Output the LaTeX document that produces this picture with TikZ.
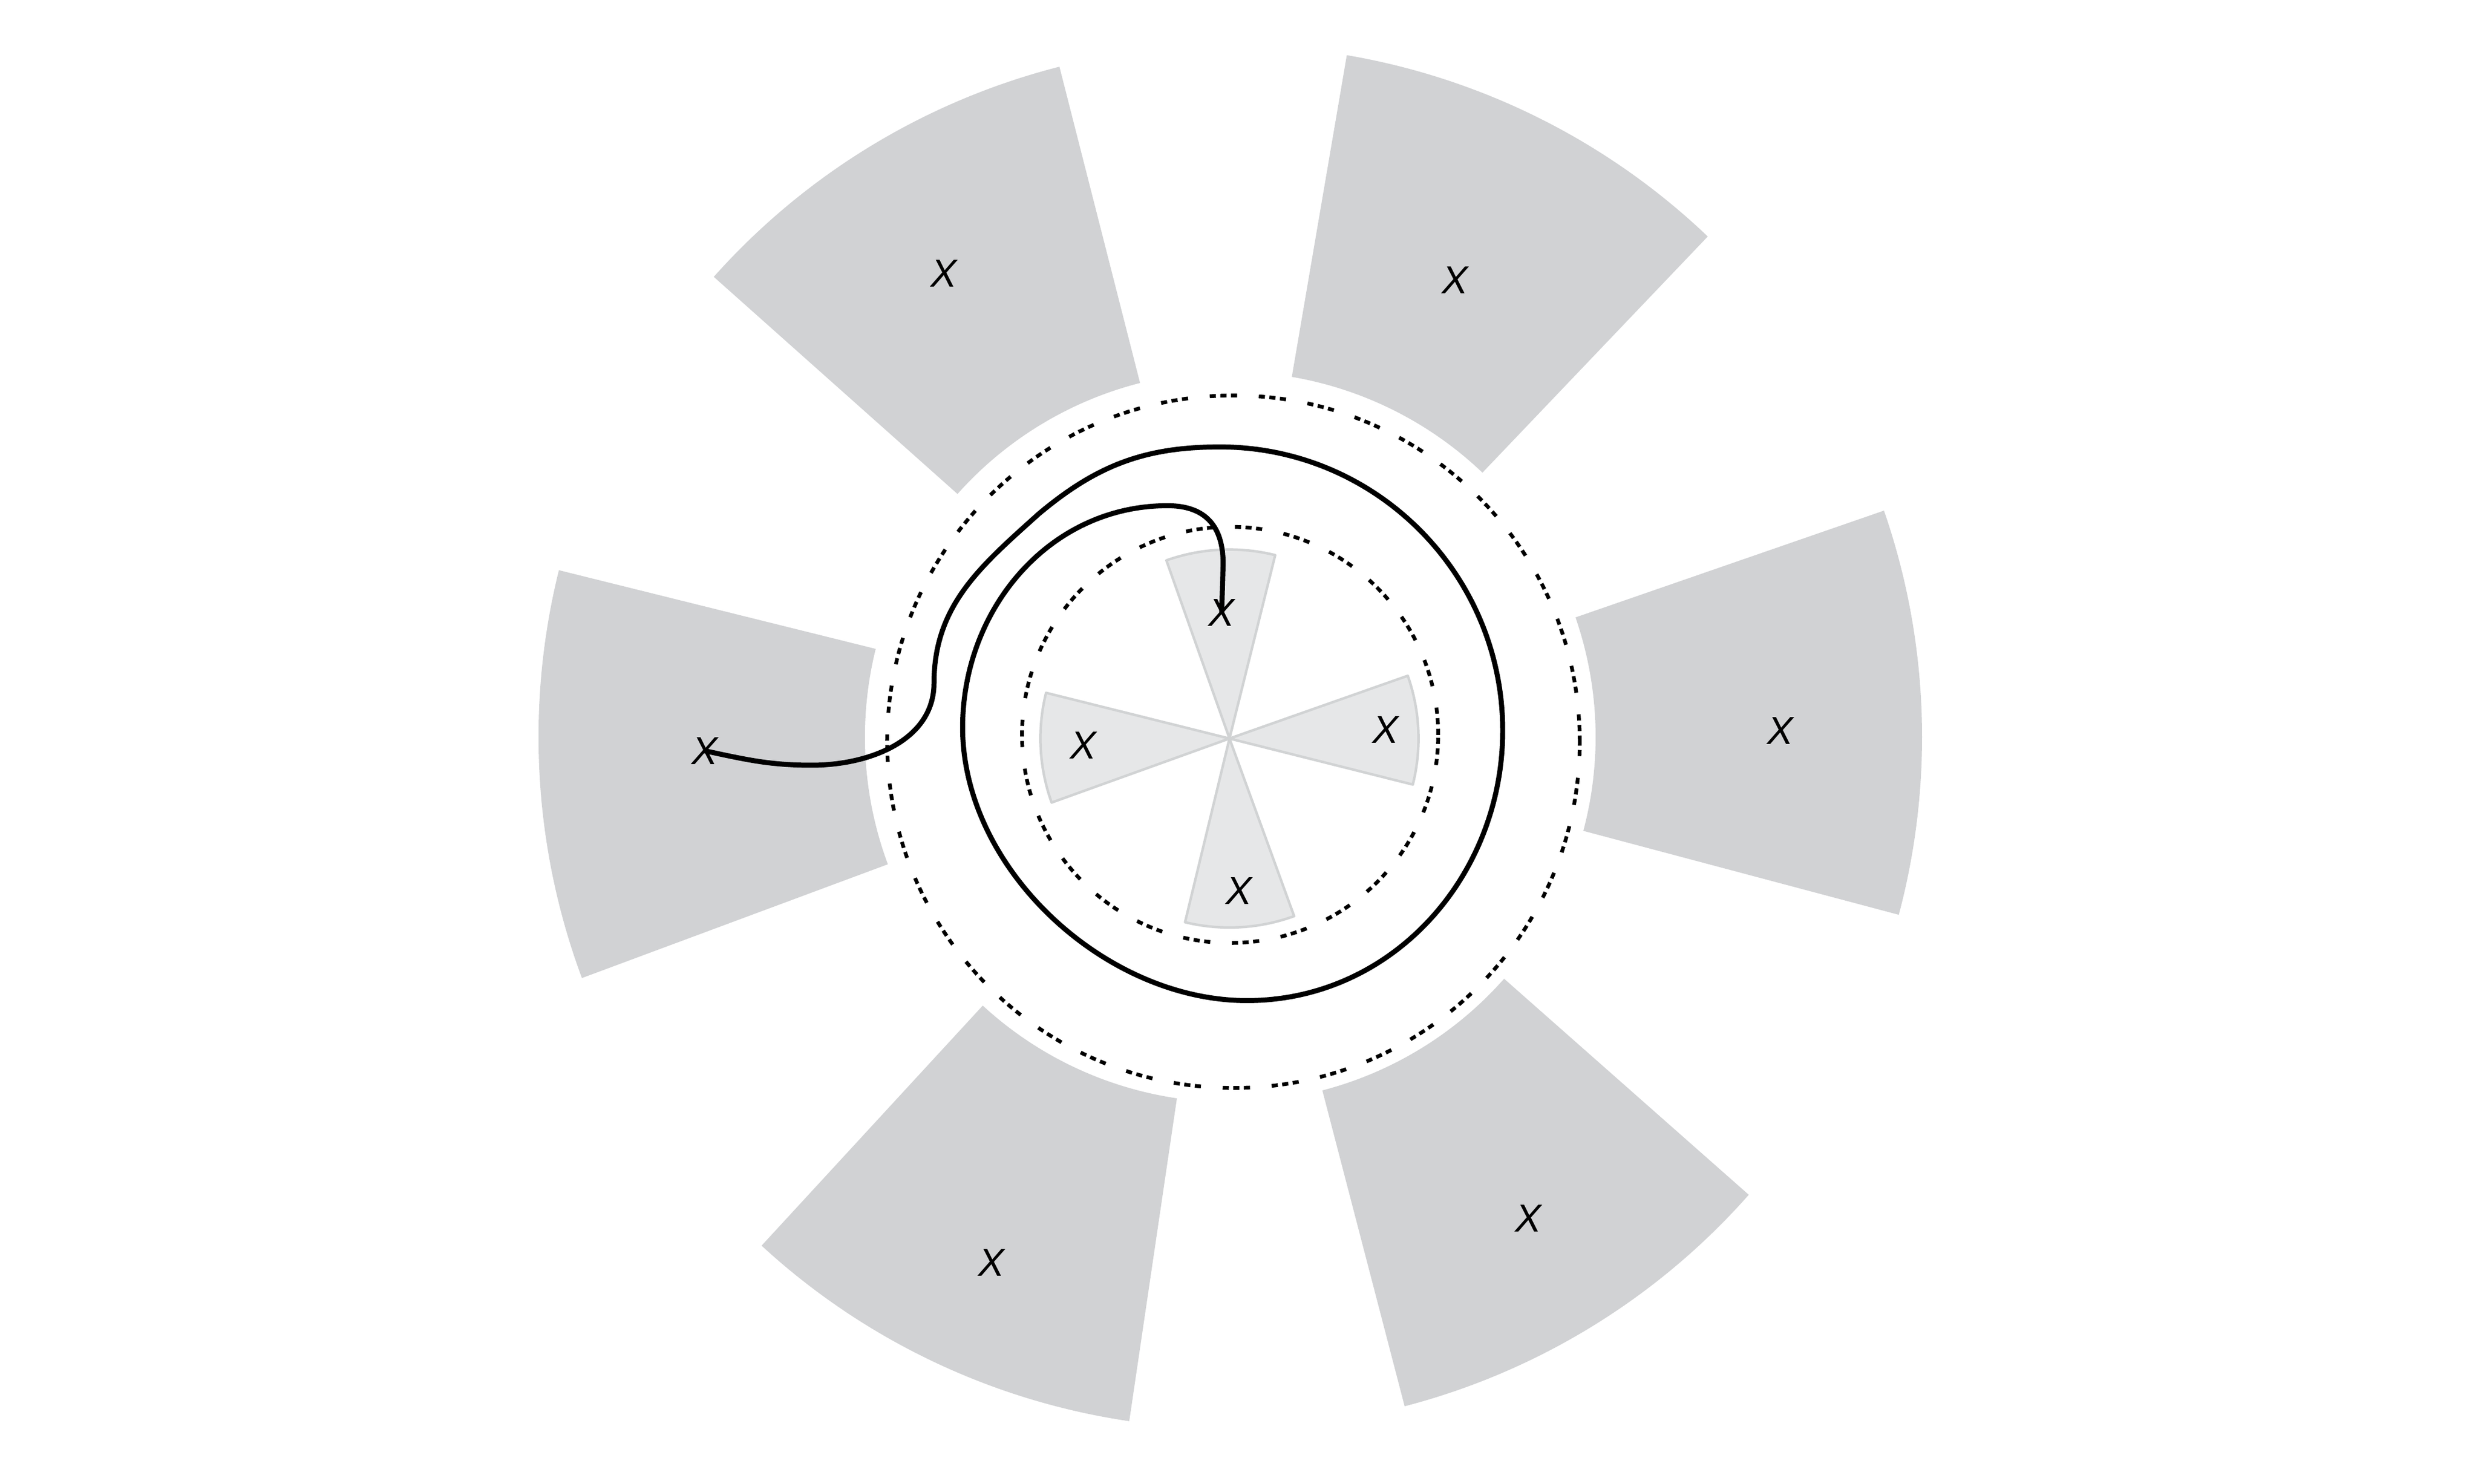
\documentclass[tikz,border=0pt]{standalone}
\usepackage{fontspec}
\setsansfont{Liberation Sans}
\usetikzlibrary{calc}
\definecolor{bladegray}{HTML}{D1D2D4}
\definecolor{hubgray}{HTML}{E6E7E8}
\definecolor{hubline}{HTML}{D1D3D4}

\begin{document}
\begin{tikzpicture}[
        blade/.style={fill=bladegray},
        hub/.style={fill=hubgray, draw=hubline, line width=0.45pt, line join=round},
        ring/.style={line width=0.67pt, dash pattern=on 1.1pt off 0.8pt on 1.1pt off 0.8pt on 1.1pt off 3.9pt},
        cross/.style={font=\sffamily\itshape\fontsize{7}{8}\selectfont, inner sep=0pt},
        orbit/.style={line width=0.9pt}
    ]
        \useasboundingbox (-7.74,-4.6937) rectangle (7.86,4.65);

        \foreach \s/\e in {104.3/138.3, 46.35/80.3, -14.9/19.1, -75.4/-41.45, 227.35/261.6, 166.05/200.4} {
            \fill[blade, shift={(0.005,0.01)}] (\s:4.355) arc[start angle=\s, end angle=\e, radius=4.355]
                -- (\e:2.30) arc[start angle=\e, end angle=\s, radius=2.30] -- cycle;
        }
        \foreach \s/\e in {76/109.5, -14.1/19.4, 166/199.8, 256.4/290} {
            \filldraw[hub] (0,0) -- (\s:1.19) arc[start angle=\s, end angle=\e, radius=1.19] -- cycle;
        }

        \draw[ring] (0.004,0.023) circle[radius=1.31];
        \draw[ring] (0.025,-0.02) circle[radius=2.18];

        \node[cross] (xl) at (-3.305,-0.077) {X};
        \node[cross] (xtl) at (-1.80,2.93) {X};
        \node[cross] (xtr) at (1.42,2.885) {X};
        \node[cross] (xr) at (3.466,0.047) {X};
        \node[cross] (xbr) at (1.88,-3.02) {X};
        \node[cross] (xbl) at (-1.50,-3.30) {X};

        \node[cross] (ht) at (-0.049,0.793) {X};
        \node[cross] (hr) at (0.984,0.054) {X};
        \node[cross] (hl) at (-0.921,-0.042) {X};
        \node[cross] (hb) at (0.06,-0.958) {X};

        \draw[orbit] (xl.center) to[out=-12, in=180] (-2.63,-0.168) to[out=0, in=-90] (-1.86,0.35)
            to[out=90, in=222] (-1.20,1.415) to[out=40, in=180] (-0.06,1.836) to[out=0, in=90] (1.72,0.05)
            to[out=-90, in=0] (0.11,-1.65) to[out=180, in=-90, looseness=0.92] (-1.68,0.07)
            to[out=90, in=180] (-0.39,1.466) to[out=0, in=90, looseness=1.2] (-0.04,1.10) -- (ht.center);
    \end{tikzpicture}
\end{document}
